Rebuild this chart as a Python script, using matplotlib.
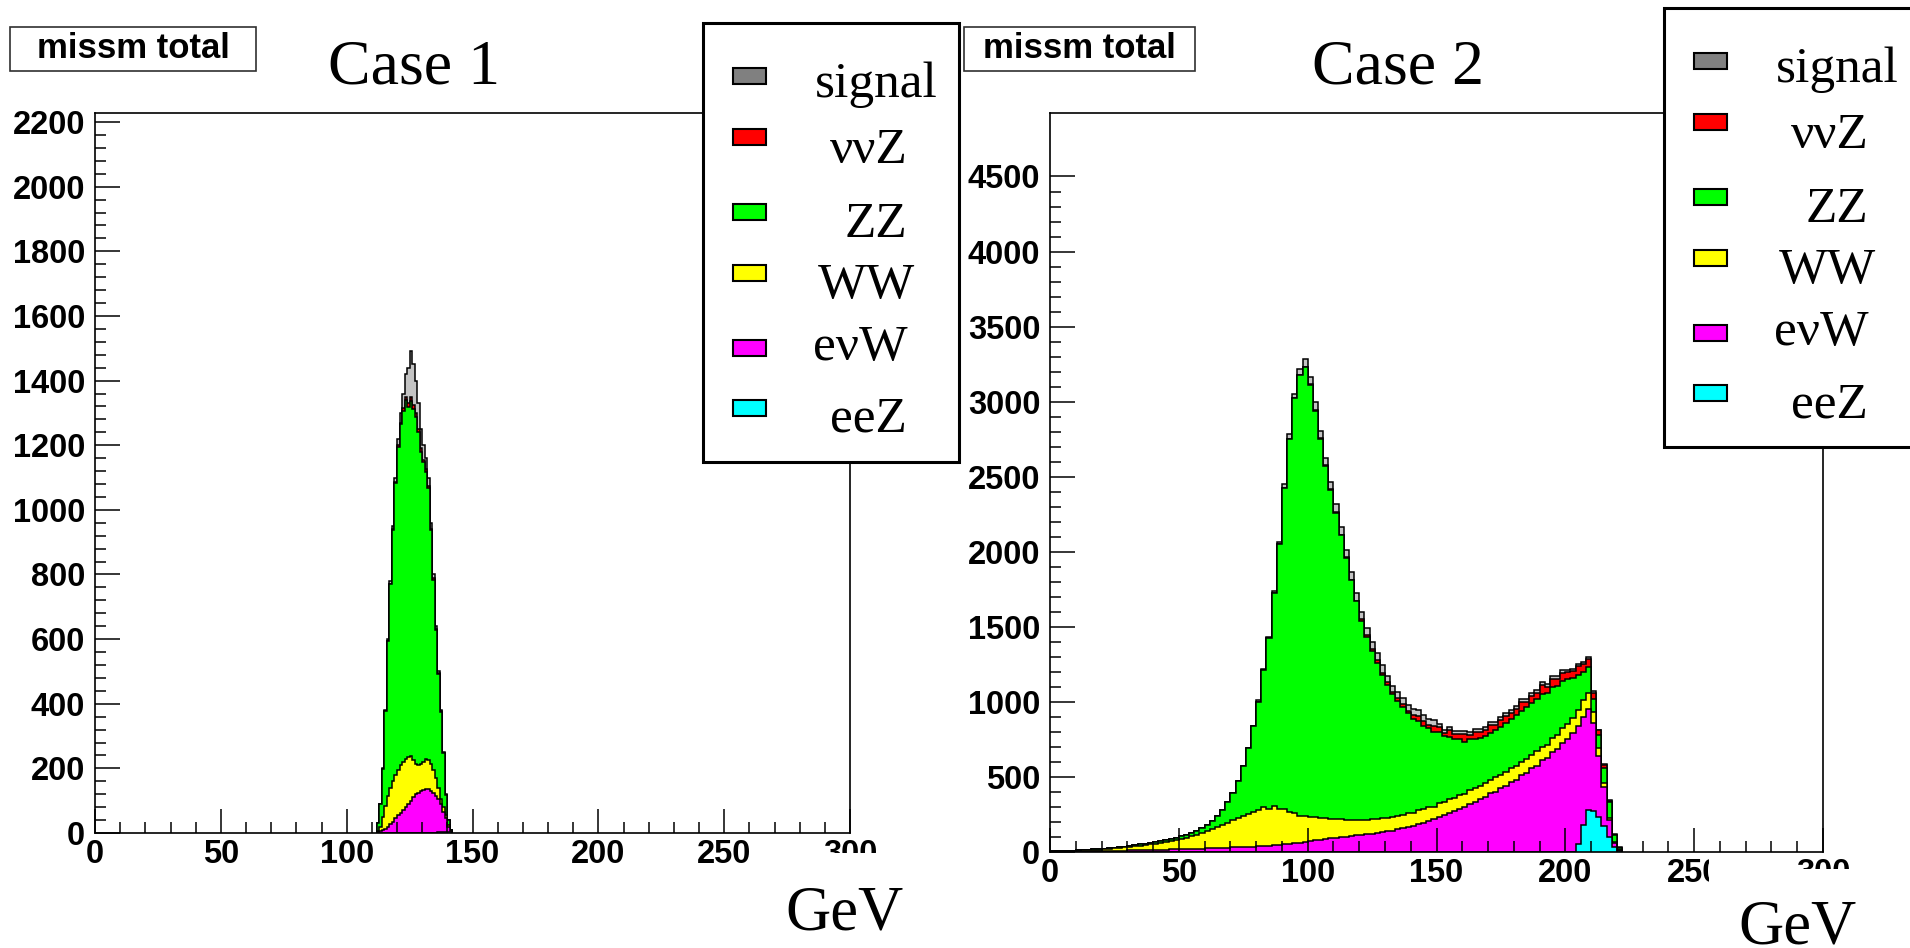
import numpy as np
import matplotlib
matplotlib.use("Agg")
import matplotlib.pyplot as plt
from matplotlib.patches import Rectangle
from matplotlib.transforms import Bbox, TransformedBbox

# ---------------- data ----------------
labels = ["signal", "ννZ", "ZZ", "WW", "eνW", "eeZ"]
legend_colors = ["#808080", "#ff0000", "#00ff00", "#ffff00", "#ff00ff", "#00ffff"]

# Case 1: 1 GeV bins starting at 112 GeV
l_first_edge = 112
l_bin_width = 1
l_eeZ = [0] * 24 + [2, 3, 4, 4, 3, 2]
l_evW = [2, 5, 8, 12, 20, 28, 35, 45, 55, 62, 70, 80, 90, 100, 110, 120, 125, 130, 132, 135,
         135, 130, 125, 115, 103, 87, 61, 41, 17, 4]
l_WW = [3, 15, 42, 73, 95, 112, 125, 135, 140, 148, 150, 148, 145, 138, 115, 95, 85, 82, 88, 93,
        90, 85, 70, 55, 35, 15, 15, 10, 5, 2]
l_ZZ = [25, 70, 148, 292, 480, 632, 778, 902, 1000, 1055, 1087, 1112, 1083, 1100, 1088, 1073,
        1030, 968, 927, 889, 844, 722, 589, 459, 353, 270, 167, 64, 15, 2]
l_vvZ = [0, 0, 0, 0, 0, 0, 2, 3, 5, 5, 8, 10, 12, 12, 12, 12, 10, 10, 8, 8, 6, 5, 4, 3, 2, 2, 1,
         0, 0, 0]
l_signal = [0, 0, 2, 3, 5, 8, 10, 15, 20, 30, 45, 70, 110, 140, 125, 100, 80, 60, 45, 35, 25, 18,
            12, 8, 5, 3, 2, 1, 0, 0]

# Case 2: 2 GeV bins starting at 0 GeV
r_first_edge = 0
r_bin_width = 2
r_eeZ = [0] * 102 + [50, 180, 280, 270, 230, 170, 100, 35, 5]
r_evW = [2, 2, 3, 3, 3, 4, 4, 5, 5, 6,
         6, 7, 7, 8, 9, 10, 10, 11, 12, 13,
         14, 15, 16, 17, 18, 19, 20, 21, 22, 23,
         24, 25, 26, 27, 28, 30, 31, 32, 34, 35,
         37, 39, 41, 44, 47, 50, 54, 58, 62, 67,
         72, 77, 82, 87, 91, 95, 99, 103, 107, 111,
         115, 119, 123, 127, 132, 137, 143, 150, 158, 166,
         175, 185, 196, 207, 219, 232, 245, 259, 273, 288,
         303, 322, 331, 356, 365, 391, 402, 428, 440, 468,
         480, 512, 526, 559, 574, 610, 628, 665, 686, 726,
         756, 792, 790, 720, 670, 590, 410, 260, 110, 25,
         5]
r_WW = [1, 2, 2, 3, 4, 4, 6, 7, 9, 10,
        12, 14, 17, 19, 21, 23, 27, 30, 33, 37,
        41, 45, 50, 55, 62, 69, 76, 84, 93, 102,
        114, 125, 139, 153, 167, 180, 194, 208, 221, 233,
        243, 262, 248, 260, 240, 238, 210, 200, 178, 176,
        163, 155, 146, 138, 131, 125, 119, 113, 108, 103,
        99, 96, 94, 93, 92, 91, 90, 90, 90, 91,
        85, 96, 88, 94, 84, 97, 86, 93, 88, 95,
        84, 92, 96, 85, 93, 88, 97, 84, 92, 89,
        95, 86, 93, 88, 96, 90, 85, 95, 91, 99,
        99, 103, 105, 110, 110, 70, 50, 30, 15, 5,
        2]
r_ZZ = [1, 1, 1, 2, 2, 3, 3, 3, 3, 4,
        5, 5, 5, 5, 6, 7, 8, 9, 10, 10,
        11, 12, 13, 15, 16, 17, 19, 21, 25, 33,
        42, 55, 75, 100, 135, 180, 245, 330, 435, 572,
        720, 910, 1135, 1422, 1765, 2135, 2490, 2765, 2935, 2990,
        2875, 2708, 2522, 2345, 2188, 2040, 1892, 1744, 1595, 1456,
        1326, 1215, 1123, 1040, 956, 887, 822, 765, 717, 668,
        629, 589, 558, 527, 495, 468, 440, 416, 392, 370,
        349, 338, 328, 321, 317, 314, 316, 322, 327, 331,
        337, 343, 346, 348, 351, 353, 348, 340, 328, 314,
        295, 267, 235, 190, 170, 90, 90, 100, 105, 45,
        13]
r_vvZ = [0] * 50 + [5] * 10 + [10, 15, 12, 18, 15, 20, 14, 18, 22, 16,
                                25, 35, 30, 20, 40, 35, 25, 45, 30, 35,
                                50, 30, 45, 40, 35, 55, 30, 45, 50, 35,
                                40, 55, 35, 45, 40, 60, 40, 50, 45, 55,
                                50, 45, 60, 50, 55, 40, 30, 20, 10, 5,
                                0]
r_signal = ([0] * 40 + [10, 10, 10, 10, 10, 30, 30, 30, 40, 50] + [50] * 15 + [40] * 10
            + [20] * 25 + [15] * 6 + [5] * 5)

x_major = [0, 50, 100, 150, 200, 250, 300]
l_y_major = list(range(0, 2201, 200))
r_y_major = list(range(0, 4501, 500))

# ---------------- figure ----------------
W, H = 1910, 948
fig = plt.figure(figsize=(W / 100, H / 100), dpi=100)
fig.patch.set_facecolor("white")


def fx(x):
    return x / W


def fy(y):
    return 1 - y / H


SANS = "Liberation Sans"
SERIF = "Liberation Serif"
plot_colors = ["#c4c4c4", "#ff0000", "#00ff00", "#ffff00", "#ff00ff", "#00ffff"]


def panel(rect, first_edge, width, comps, ymax, ymaj, yminor_step):
    ax = fig.add_axes(rect)
    n = len(comps[0])
    edges = first_edge + width * np.arange(n + 1)
    # stack bottom -> top: eeZ, evW, WW, ZZ, vvZ, signal
    order = comps[::-1]
    cum = np.cumsum(np.array(order, dtype=float), axis=0)
    cols = plot_colors[::-1]
    for i in range(len(order) - 1, -1, -1):
        ax.stairs(cum[i], edges, baseline=0, fill=True, facecolor=cols[i],
                  edgecolor="black", linewidth=1.1)
    ax.set_xlim(0, 300)
    ax.set_ylim(0, ymax)
    ax.set_xticks(x_major)
    ax.set_xticks(np.arange(0, 301, 10), minor=True)
    ax.set_yticks(ymaj)
    ax.set_yticks(np.arange(0, ymaj[-1] + 1, yminor_step), minor=True)
    ax.set_xticklabels([str(v) for v in x_major])
    ax.set_yticklabels([str(v) for v in ymaj])
    for s in ax.spines.values():
        s.set_linewidth(1.2)
    ax.tick_params(axis="both", which="both", direction="in", top=False, right=False, width=1.1)
    ax.tick_params(axis="y", which="major", length=18, pad=7)
    ax.tick_params(axis="y", which="minor", length=8)
    ax.tick_params(axis="x", which="major", length=17, pad=4.5)
    ax.tick_params(axis="x", which="minor", length=8)
    for lab in ax.get_xticklabels() + ax.get_yticklabels():
        lab.set_fontfamily(SANS)
        lab.set_fontweight("bold")
        lab.set_fontsize(23.5)
    return ax


comps_l = [l_signal, l_vvZ, l_ZZ, l_WW, l_evW, l_eeZ]
comps_r = [r_signal, r_vvZ, r_ZZ, r_WW, r_evW, r_eeZ]

axL = panel([fx(95), 1 - 833 / H, 755 / W, 720 / H], l_first_edge, l_bin_width, comps_l,
            2228, l_y_major, 40)
axR = panel([fx(1050), 1 - 852 / H, 773 / W, 739 / H], r_first_edge, r_bin_width, comps_r,
            4923, r_y_major, 100)


# clipped tick labels as in the reference
def clip_label(ax, idx, x0, y0, x1, y1):
    lab = ax.xaxis.get_major_ticks()[idx].label1
    bb = TransformedBbox(Bbox.from_extents(fx(x0), fy(y1), fx(x1), fy(y0)), fig.transFigure)
    lab.set_clip_box(bb)
    lab.set_clip_on(True)


clip_label(axL, 6, 0, 0, W, 853)
clip_label(axR, 6, 0, 0, W, 869)
clip_label(axR, 5, 0, 0, 1709, H)

# title boxes
for (x0, x1, cx) in [(10, 256, 133), (964, 1195, 1079)]:
    fig.add_artist(Rectangle((fx(x0), fy(71)), (x1 - x0) / W, 44 / H, transform=fig.transFigure,
                             facecolor="white", edgecolor="#303030", linewidth=1.2, zorder=5))
    fig.text(fx(cx), fy(49), "missm total", ha="center", va="center", family=SANS,
             fontweight="bold", fontsize=25, zorder=6)

fig.text(fx(414), fy(83), "Case 1", ha="center", va="baseline", family=SERIF, fontsize=46)
fig.text(fx(1398), fy(83), "Case 2", ha="center", va="baseline", family=SERIF, fontsize=46)

fig.text(fx(844), fy(930), "GeV", ha="center", va="baseline", family=SERIF, fontsize=45)
fig.text(fx(1797), fy(943), "GeV", ha="center", va="baseline", family=SERIF, fontsize=45)

# legends
marker_y = [76, 137, 212, 273, 348, 408]
text_base = [97, 163, 237, 298, 360, 432]
text_x = [815, 830, 845, 818, 813, 830]


def legend(dx, dy, x1):
    fig.add_artist(Rectangle((fx(703 + dx), fy(462 + dy)), (x1 - 703 - dx) / W, 439 / H,
                             transform=fig.transFigure, facecolor="white", edgecolor="black",
                             linewidth=2.2, zorder=7))
    for lab, col, my, tb, tx in zip(labels, legend_colors, marker_y, text_base, text_x):
        fig.add_artist(Rectangle((fx(733 + dx), fy(my + dy + 8)), 33 / W, 16 / H,
                                 transform=fig.transFigure, facecolor=col, edgecolor="black",
                                 linewidth=1.5, zorder=8))
        fig.text(fx(tx + dx), fy(tb + dy), lab, ha="left", va="baseline", family=SERIF,
                 fontsize=37, zorder=9)


legend(0, 0, 959)
legend(961, -15, 1930)

fig.savefig("out.png", dpi=100, facecolor="white")
